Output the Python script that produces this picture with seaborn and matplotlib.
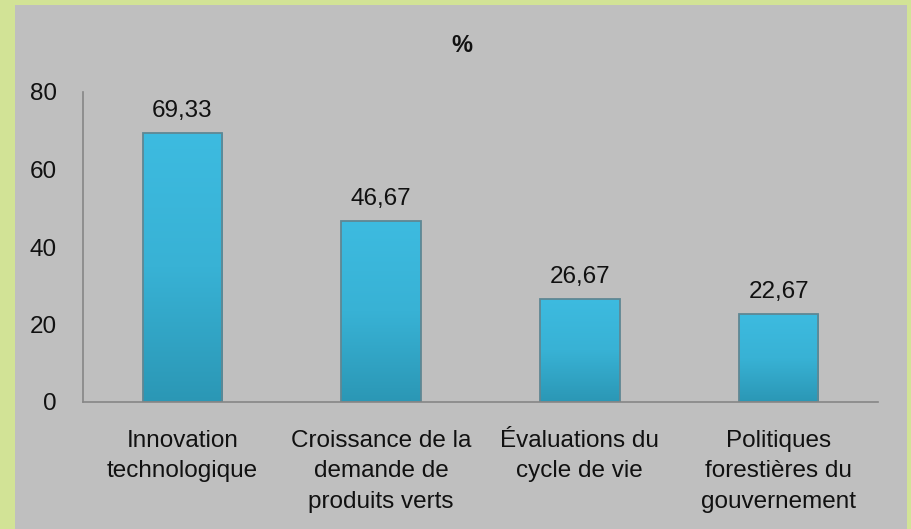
import matplotlib
matplotlib.use("Agg")
import matplotlib.pyplot as plt
import seaborn as sns
import numpy as np
import pandas as pd
from matplotlib.patches import Rectangle
from matplotlib.colors import LinearSegmentedColormap

categories = ["Innovation\ntechnologique",
              "Croissance de la\ndemande de\nproduits verts",
              "Évaluations du\ncycle de vie",
              "Politiques\nforestières du\ngouvernement"]
values = [69.33, 46.67, 26.67, 22.67]
value_labels = ["69,33", "46,67", "26,67", "22,67"]
yticks = [0, 20, 40, 60, 80]

df = pd.DataFrame({"cat": categories, "val": values})

sns.set_style("white")
plt.rcParams["font.family"] = ["Liberation Sans Narrow", "Liberation Sans", "DejaVu Sans"]

gray = "#bfbfbf"
txt = "#111111"
fs = 17.5
fig = plt.figure(figsize=(9.12, 5.29), dpi=100, facecolor="#d2e396")
fig.patches.append(Rectangle((15 / 912, 0), 892 / 912, 524 / 529,
                             transform=fig.transFigure, facecolor=gray,
                             edgecolor="none", zorder=-10))
ax = fig.add_axes([83 / 912, 1 - 402 / 529, 795 / 912, 310 / 529])
ax.set_facecolor(gray)

sns.barplot(data=df, x="cat", y="val", ax=ax, color="#3ab5d8",
            width=0.4, saturation=1, edgecolor="#5f8793", linewidth=1.3)

# soft vertical shading inside the bars
cmap = LinearSegmentedColormap.from_list("bar", ["#2b97b5", "#38b2d5", "#3dbbe0"])
grad = np.linspace(0, 1, 256).reshape(-1, 1)
for p in ax.patches:
    x0, w, h = p.get_x(), p.get_width(), p.get_height()
    im = ax.imshow(grad, cmap=cmap, origin="lower", aspect="auto",
                   extent=[x0, x0 + w, 0, h], zorder=p.get_zorder() + 0.1)
    im.set_clip_path(p)
    p.set_zorder(p.get_zorder() + 0.2)
    p.set_facecolor("none")

for p, lab in zip(ax.patches, value_labels):
    ax.annotate(lab, (p.get_x() + p.get_width() / 2, p.get_height()),
                xytext=(0, 8), textcoords="offset points",
                ha="center", va="bottom", fontsize=fs, color=txt)

ax.set_ylim(0, 80)
ax.set_xlim(-0.5, 3.5)
ax.set_yticks(yticks)
ax.set_yticklabels([str(t) for t in yticks], fontsize=fs, color=txt)
ax.set_xticks([0, 1, 2, 3])
ax.set_xticklabels(categories, fontsize=fs, linespacing=1.5, color=txt)
ax.set_xticks([-0.5, 0.5, 1.5, 2.5, 3.5], minor=True)
ax.tick_params(axis="x", which="major", length=0, pad=20)
ax.tick_params(axis="x", which="minor", length=7, color="#868686", width=1.2)
ax.tick_params(axis="y", length=7, color="#868686", width=1.2, pad=12)
ax.set_xlabel("")
ax.set_ylabel("")
for s in ["top", "right"]:
    ax.spines[s].set_visible(False)
for s in ["left", "bottom"]:
    ax.spines[s].set_color("#868686")
    ax.spines[s].set_linewidth(1.2)

fig.text(0.506, 1 - 45 / 529, "%", ha="center", va="center",
         fontsize=17, fontweight="bold", color=txt)

fig.savefig("out.png", dpi=100, facecolor=fig.get_facecolor())
